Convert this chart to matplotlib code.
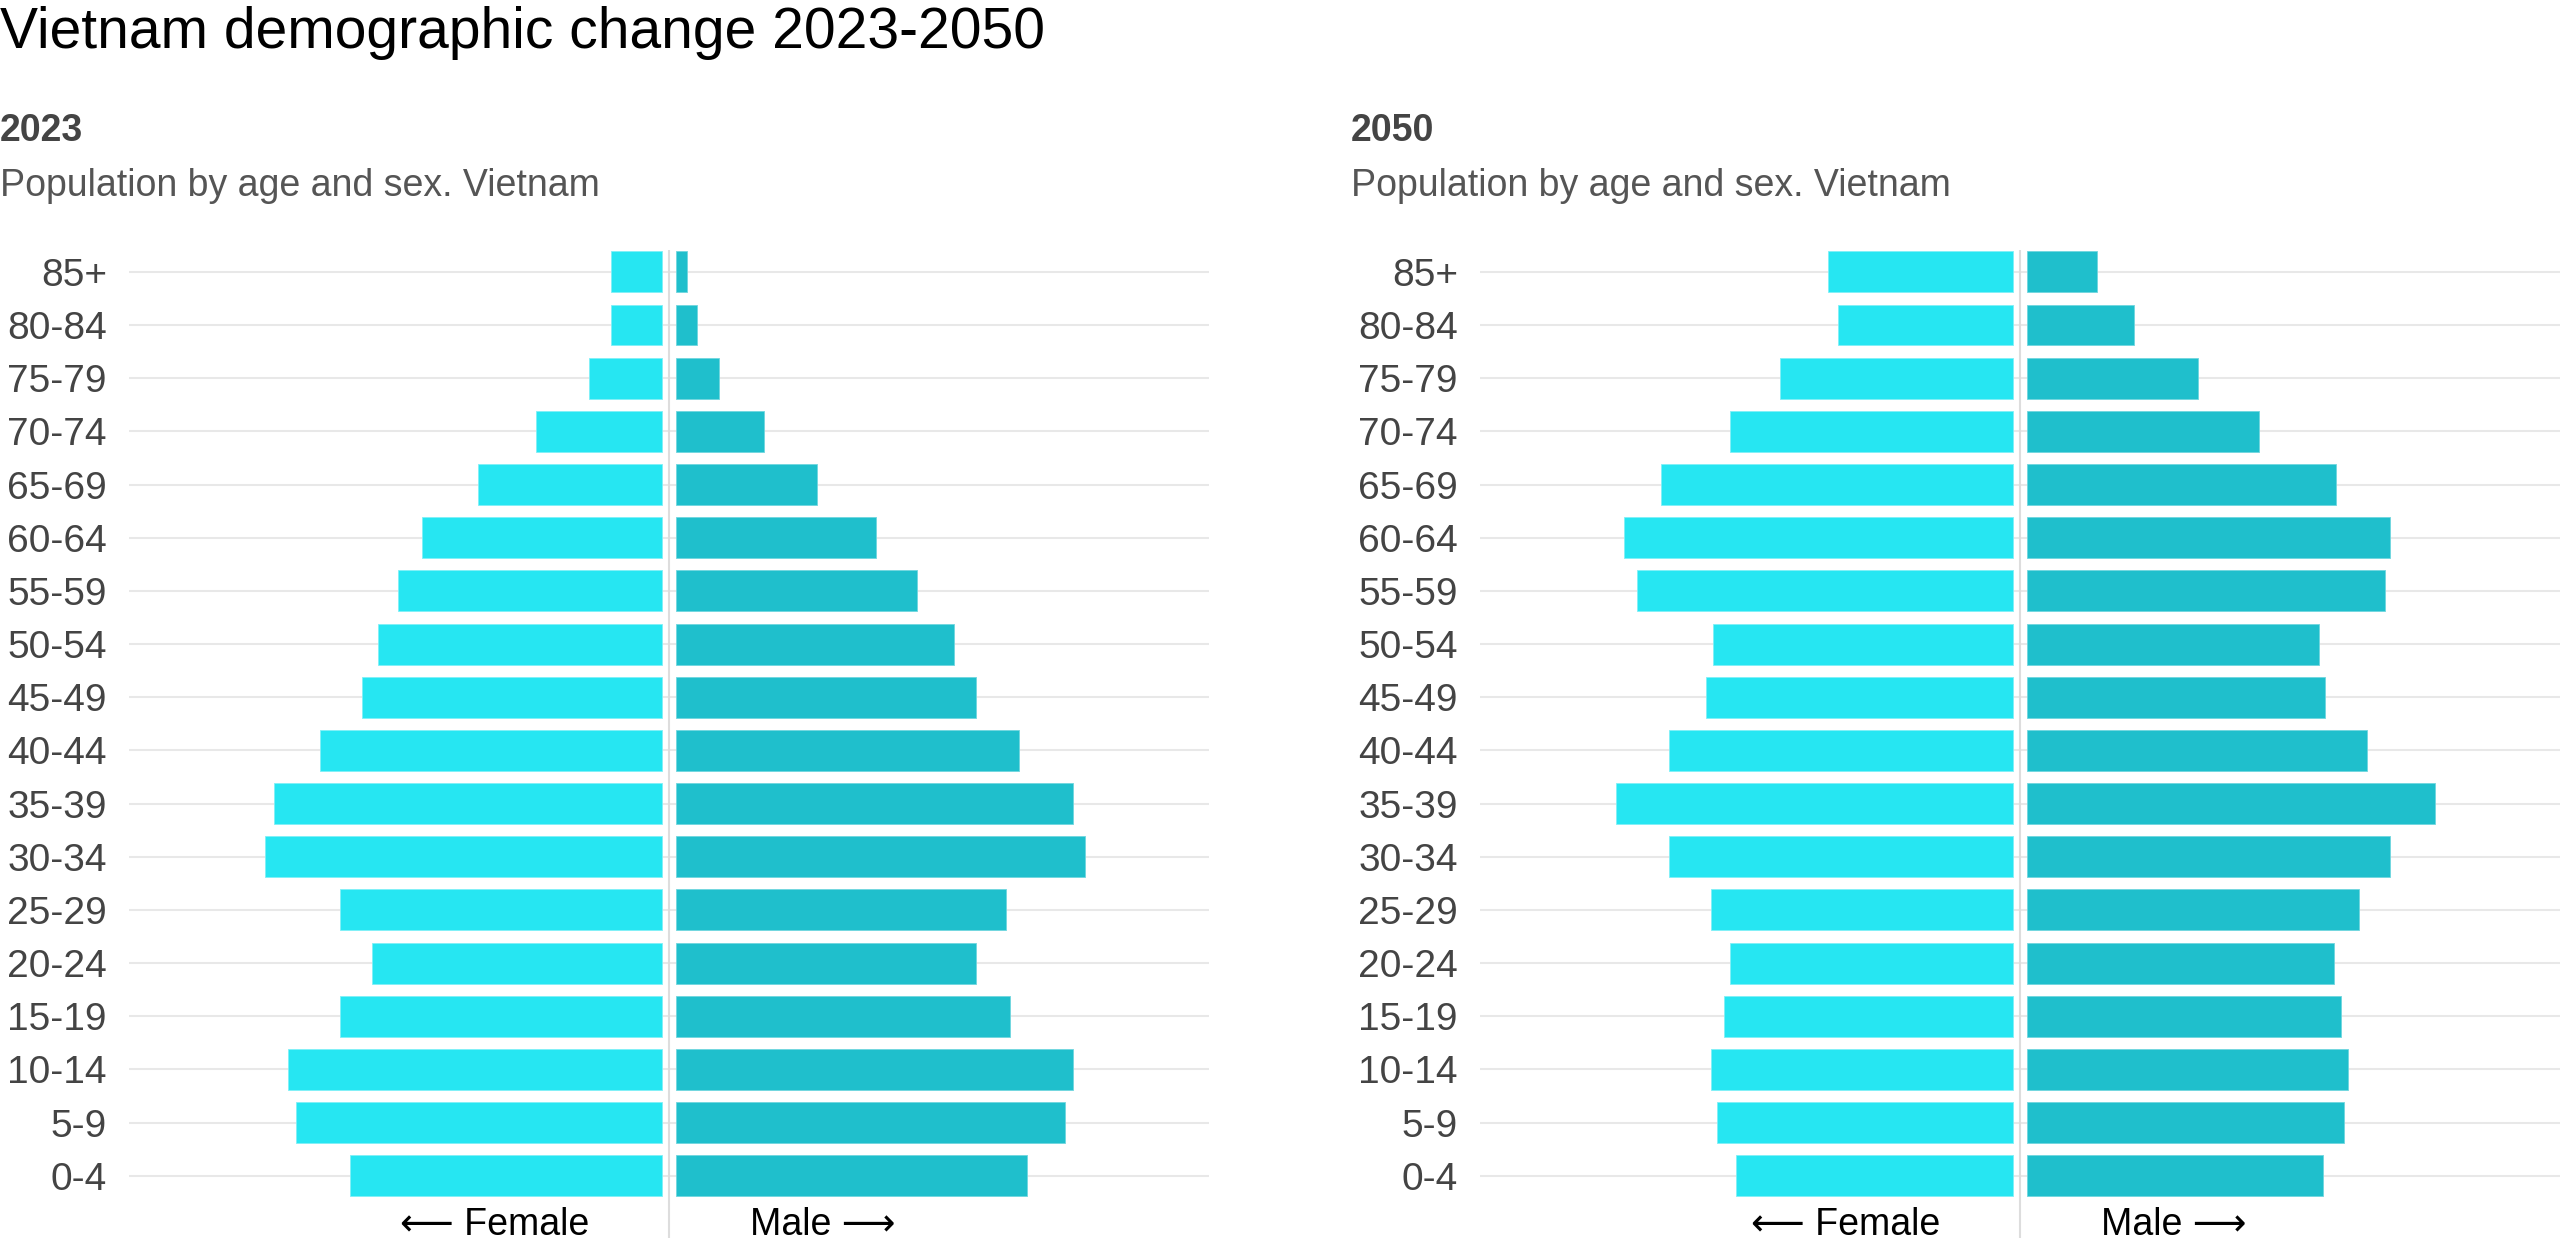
import numpy as np
import matplotlib
matplotlib.use("Agg")
import matplotlib.pyplot as plt

plt.rcParams['font.family'] = ['Liberation Sans', 'DejaVu Sans']

# age groups, bottom to top
ages = ['0-4', '5-9', '10-14', '15-19', '20-24', '25-29', '30-34', '35-39',
        '40-44', '45-49', '50-54', '55-59', '60-64', '65-69', '70-74',
        '75-79', '80-84', '85+']

# population, millions
female_2023 = [3.28, 3.85, 3.93, 3.39, 3.05, 3.39, 4.18, 4.08, 3.60, 3.16,
               2.99, 2.78, 2.52, 1.93, 1.33, 0.77, 0.54, 0.54]
male_2023 = [3.69, 4.09, 4.18, 3.51, 3.15, 3.47, 4.30, 4.18, 3.61, 3.15,
             2.92, 2.53, 2.10, 1.48, 0.92, 0.45, 0.22, 0.12]
female_2050 = [2.91, 3.11, 3.18, 3.04, 2.98, 3.18, 3.62, 4.18, 3.62, 3.23,
               3.15, 3.95, 4.09, 3.70, 2.98, 2.45, 1.84, 1.95]
male_2050 = [3.11, 3.33, 3.38, 3.30, 3.23, 3.49, 3.82, 4.29, 3.58, 3.13,
             3.07, 3.77, 3.82, 3.25, 2.44, 1.80, 1.13, 0.74]

c_female = '#26E6F2'
c_male = '#1FBFCC'
grid_c = '#e8e8e8'
gap = 0.074
xmax = 5.68

W, H = 2560, 1238
fig = plt.figure(figsize=(W / 100, H / 100), dpi=100)

fig.text(0 / W, 1 - 33 / H, 'Vietnam demographic change 2023-2050',
         fontsize=41, color='black', va='center', ha='left')


def panel(x0, year, female, male):
    ax = fig.add_axes([x0 / W, 0, 1080 / W, 988 / H])
    y = np.arange(len(ages))
    for yy in y:
        ax.axhline(yy, color=grid_c, lw=1.5, zorder=0)
    ax.axvline(0, color='#dddddd', lw=1.5, zorder=0)
    ax.barh(y, -np.array(female), left=-gap, height=0.77, color=c_female,
            edgecolor='#7ff0f7', linewidth=0.6, zorder=2)
    ax.barh(y, male, left=gap, height=0.77, color=c_male,
            edgecolor='#6fd6de', linewidth=0.6, zorder=2)
    ax.set_xlim(-xmax, xmax)
    ax.set_ylim(-1.17, 17.41)
    ax.set_yticks(y)
    ax.set_yticklabels(ages, fontsize=28, color='#444444')
    ax.tick_params(axis='y', length=0, pad=16)
    ax.set_xticks([])
    for s in ax.spines.values():
        s.set_visible(False)
    ax.text(-0.84, -0.92, '\u27f5 Female', ha='right', va='center',
            fontsize=27, color='black')
    ax.text(0.85, -0.92, 'Male \u27f6', ha='left', va='center',
            fontsize=27, color='black')
    xl = x0 - 129
    fig.text(xl / W, 1 - 131 / H, year, fontsize=27, fontweight='bold',
             color='#444444', va='center', ha='left')
    fig.text(xl / W, 1 - 186 / H, 'Population by age and sex. Vietnam',
             fontsize=27, color='#555555', va='center', ha='left')
    return ax


panel(129, '2023', female_2023, male_2023)
panel(1480, '2050', female_2050, male_2050)

fig.savefig('out.png', dpi=100)
